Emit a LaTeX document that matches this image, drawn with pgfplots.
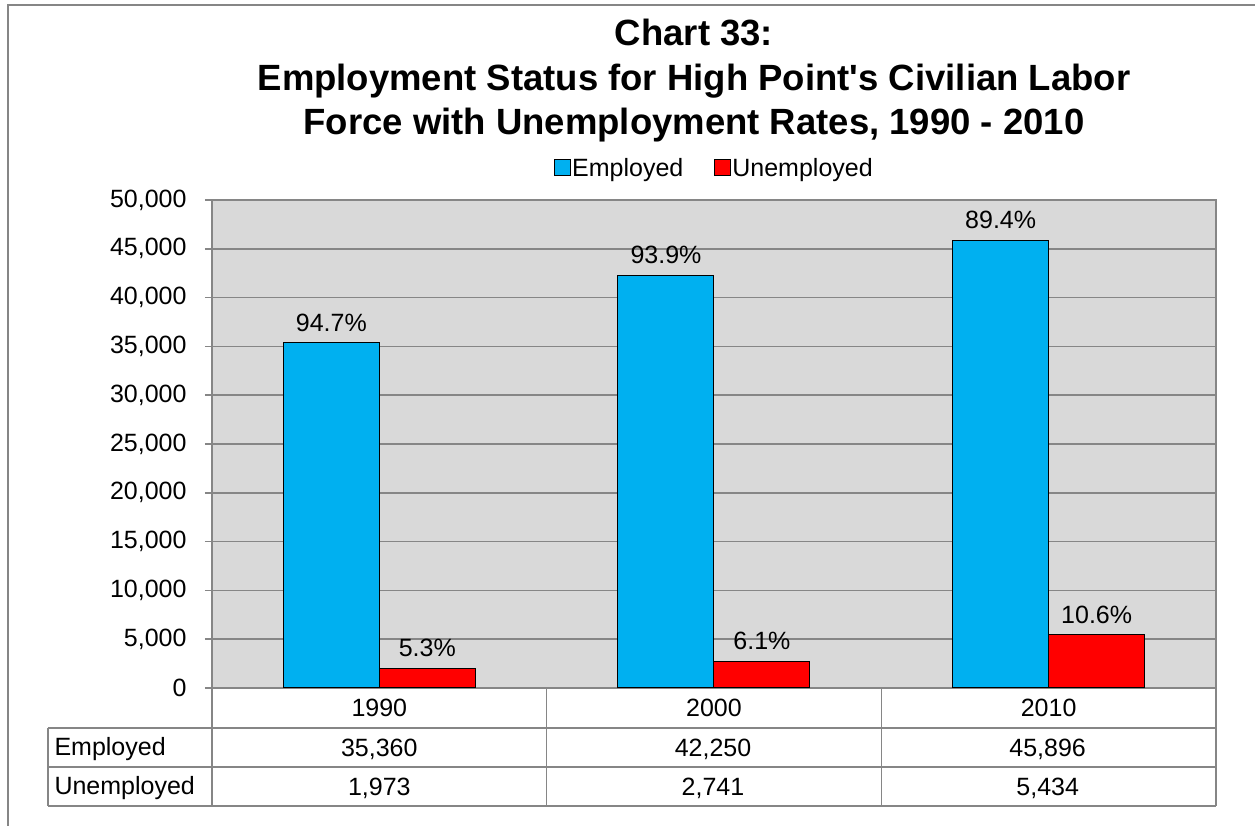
\documentclass[border=0pt]{standalone}
\usepackage{fontspec}
\setmainfont{Liberation Sans}
\usepackage{pgfplots}
\pgfplotsset{compat=1.18}
\definecolor{empblue}{RGB}{0,176,240}
\definecolor{unred}{RGB}{255,0,0}
\definecolor{plotbg}{RGB}{217,217,217}
\definecolor{gridgray}{RGB}{134,134,134}
\newcommand{\fs}{\fontsize{25}{30}\selectfont}
\begin{document}
\begin{tikzpicture}
\useasboundingbox (-212pt,-138pt) rectangle (1043pt,688pt);
\begin{axis}[
  scale only axis, width=1004pt, height=488pt,
  ymin=0, ymax=50000, xmin=-0.5, xmax=2.5,
  ybar=0pt, bar width=96pt,
  axis background/.style={fill=plotbg},
  ymajorgrids, grid style={gridgray, line width=1.5pt},
  axis line style={gridgray, line width=1.5pt},
  ytick={0,5000,...,50000},
  scaled y ticks=false,
  /pgf/number format/.cd, 1000 sep={,}, assume math mode=true, /pgfplots/.cd,
  xtick={0,1,2}, xticklabels={1990,2000,2010},
  x tick style={draw=none},
  y tick style={gridgray, line width=1.5pt},
  tick align=outside, major tick length=7pt,
  xtick pos=bottom, ytick pos=left,
  tick label style={font=\fs},
  xticklabel style={anchor=center, yshift=-13pt},
  yticklabel style={xshift=-15pt},
  nodes near coords, point meta=explicit symbolic,
  nodes near coords style={font=\fs, anchor=south, inner sep=2pt, yshift=9pt, text=black},
  legend style={at={(0.5,1.0656)}, anchor=center, draw=none, fill=none,
    font=\fs, legend columns=2,
    /tikz/every even column/.append style={column sep=29pt},
    nodes={inner sep=1.5pt}},
  legend image code/.code={\draw[#1,draw=black,line width=1pt] (0pt,-8pt) rectangle (16pt,8pt);},
]
\addplot[fill=empblue, draw=black, line width=1pt] table[meta=lab] {
x y lab
0 35360 94.7\%
1 42250 93.9\%
2 45896 89.4\%
};
\addplot[fill=unred, draw=black, line width=1pt] table[meta=lab] {
x y lab
0 1973 5.3\%
1 2741 6.1\%
2 5434 10.6\%
};
\legend{Employed,Unemployed}
\end{axis}
% data table grid
\begin{scope}[gridgray, line width=1.5pt]
\draw (-164pt,-40pt) -- (1004pt,-40pt);
\draw (-164pt,-79pt) -- (1004pt,-79pt);
\draw (-164pt,-118pt) -- (1004pt,-118pt);
\draw (-164pt,-40pt) -- (-164pt,-118pt);
\draw (0pt,0pt) -- (0pt,-118pt);
\draw (334.67pt,0pt) -- (334.67pt,-118pt);
\draw (669.33pt,0pt) -- (669.33pt,-118pt);
\draw (1004pt,0pt) -- (1004pt,-118pt);
\end{scope}
\begin{scope}[font=\fs]
\node[anchor=west] at (-161pt,-61pt) {Employed};
\node[anchor=west] at (-161pt,-100pt) {Unemployed};
\node at (167.33pt,-61pt) {35,360};
\node at (501pt,-61pt) {42,250};
\node at (835.67pt,-61pt) {45,896};
\node at (167.33pt,-100pt) {1,973};
\node at (501pt,-100pt) {2,741};
\node at (835.67pt,-100pt) {5,434};
\end{scope}
% title
\node[align=center, font=\bfseries\fontsize{36.5}{44.5}\selectfont] at (482pt,607pt)
  {Chart 33:\\Employment Status for High Point\textquotesingle s Civilian Labor\\Force with Unemployment Rates, 1990 - 2010};
% outer frame
\draw[gridgray, line width=1.5pt] (1043pt,683pt) -- (-204pt,683pt) -- (-204pt,-138pt);
\end{tikzpicture}
\end{document}
